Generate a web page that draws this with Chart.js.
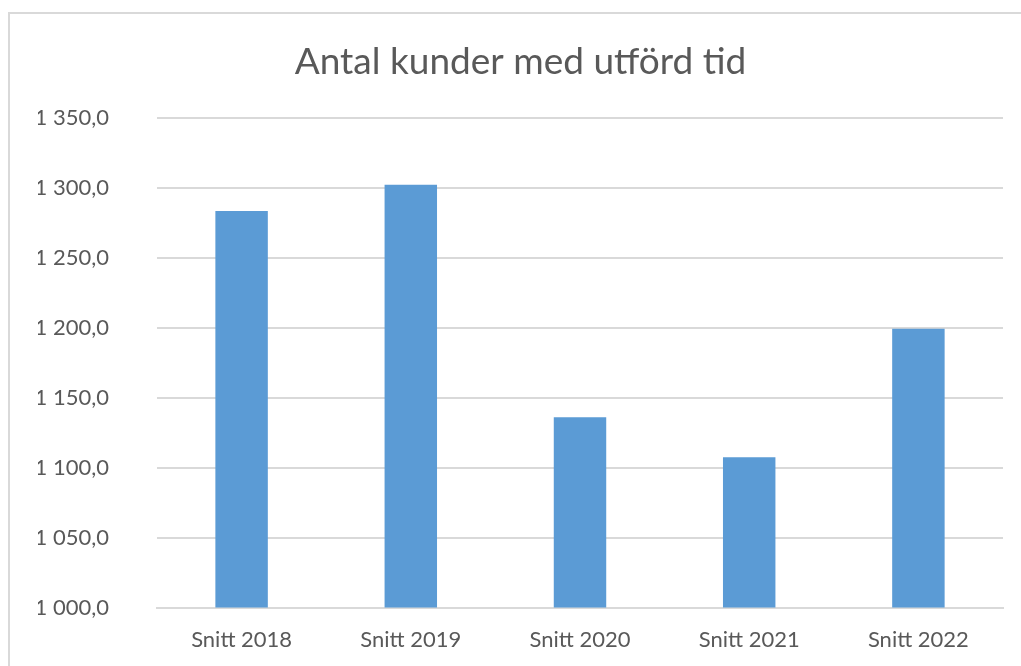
<!DOCTYPE html>
<html>
<head>
<meta charset="utf-8">
<script src="https://cdn.jsdelivr.net/npm/chart.js@4"></script>
<style>
  html, body { margin: 0; padding: 0; background: #fff; overflow: hidden; }
  #frame { position: absolute; left: 8px; top: 12px; width: 1100px; height: 700px;
           border-top: 2px solid #d9d9d9; border-left: 2px solid #d9d9d9; }
  #wrap { position: absolute; left: 0; top: 0; width: 1021px; height: 672px; }
</style>
</head>
<body>
<div id="frame"></div>
<div id="wrap"><canvas id="kunderChart"></canvas></div>
<script>
// Data
const categories = ['Snitt 2018', 'Snitt 2019', 'Snitt 2020', 'Snitt 2021', 'Snitt 2022'];
const snittValues = [1283.8, 1302.6, 1136.2, 1107.6, 1199.5];
const yMin = 1000;
const yMax = 1350;
const yStep = 50;

// Swedish style number: "1 350,0"
function fmtSv(v) {
  const parts = v.toFixed(1).split('.');
  const whole = parts[0].replace(/\B(?=(\d{3})+(?!\d))/g, ' ');
  return whole + ',' + parts[1];
}

const ctx = document.getElementById('kunderChart').getContext('2d');
new Chart(ctx, {
  type: 'bar',
  data: {
    labels: categories,
    datasets: [{
      label: 'Antal kunder',
      data: snittValues,
      backgroundColor: '#5b9bd5',
      categoryPercentage: 1.0,
      barPercentage: 0.31
    }]
  },
  options: {
    responsive: true,
    maintainAspectRatio: false,
    animation: false,
    layout: { padding: { left: 38, right: 18, top: 40, bottom: 0 } },
    plugins: {
      legend: { display: false },
      tooltip: { enabled: false },
      title: {
        display: true,
        text: 'Antal kunder med utförd tid',
        color: '#595959',
        font: { family: 'Lato', size: 37, weight: 'normal' },
        padding: { top: 0, bottom: 34 }
      }
    },
    scales: {
      x: {
        grid: { display: false, drawTicks: false },
        border: { display: true, color: '#d9d9d9', width: 2 },
        ticks: {
          color: '#595959',
          font: { family: 'Lato', size: 22 },
          padding: 19
        }
      },
      y: {
        min: yMin,
        max: yMax,
        afterFit: scale => { scale.width = 119; },
        border: { display: false },
        grid: { color: '#d9d9d9', lineWidth: 2, drawTicks: false },
        ticks: {
          stepSize: yStep,
          color: '#595959',
          font: { family: 'Lato', size: 22 },
          padding: 48,
          callback: v => fmtSv(v)
        }
      }
    }
  }
});
</script>
</body>
</html>
